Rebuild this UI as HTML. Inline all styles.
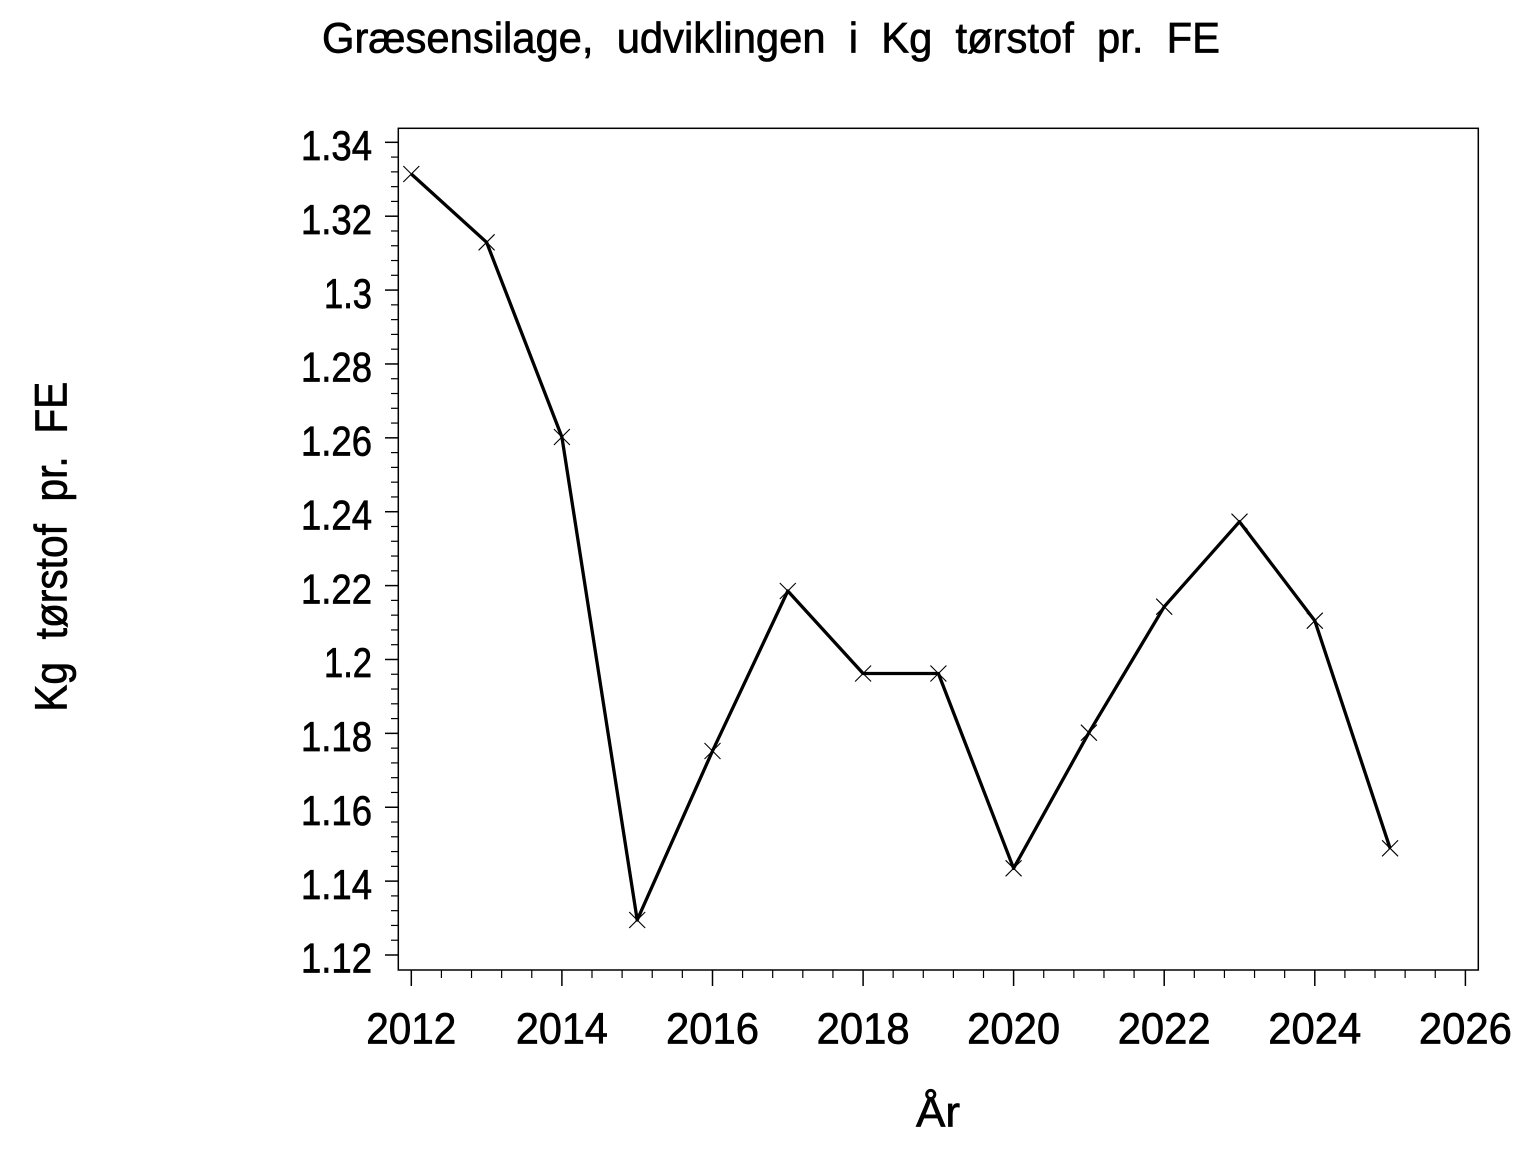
<!DOCTYPE html>
<html>
<head>
<meta charset="utf-8">
<style>
  html, body { margin:0; padding:0; background:#fff; }
  svg { display:block; }
  text { font-family: "Liberation Sans", Arial, sans-serif; fill:#000; white-space: pre; }
  .b { stroke:#000; stroke-width:0.7; }
</style>
</head>
<body>
<svg width="1536" height="1152" viewBox="0 0 1536 1152" xmlns="http://www.w3.org/2000/svg" xml:space="preserve">
  <rect x="0" y="0" width="1536" height="1152" fill="#fff"/>

  <!-- Title -->
  <text class="b" x="322" y="52.7" font-size="43" textLength="898" lengthAdjust="spacingAndGlyphs">Græsensilage,  udviklingen  i  Kg  tørstof  pr.  FE</text>

  <!-- Frame -->
  <rect x="398.3" y="128.3" width="1080" height="841.7" fill="none" stroke="#000" stroke-width="1.5"/>

  <!-- Y ticks -->
  <g stroke="#000" stroke-width="1.5">
    <line x1="385" y1="955" x2="398" y2="955"/>
    <line x1="385" y1="881.12" x2="398" y2="881.12"/>
    <line x1="385" y1="807.24" x2="398" y2="807.24"/>
    <line x1="385" y1="733.36" x2="398" y2="733.36"/>
    <line x1="385" y1="659.48" x2="398" y2="659.48"/>
    <line x1="385" y1="585.6" x2="398" y2="585.6"/>
    <line x1="385" y1="511.72" x2="398" y2="511.72"/>
    <line x1="385" y1="437.84" x2="398" y2="437.84"/>
    <line x1="385" y1="363.96" x2="398" y2="363.96"/>
    <line x1="385" y1="290.08" x2="398" y2="290.08"/>
    <line x1="385" y1="216.2" x2="398" y2="216.2"/>
    <line x1="385" y1="142.32" x2="398" y2="142.32"/>
  </g>
  <g stroke="#000" stroke-width="1.2" id="yminor"></g>

  <!-- Y tick labels -->
  <g font-size="42" text-anchor="end" class="b">
    <text x="372" y="972.7" textLength="71" lengthAdjust="spacingAndGlyphs">1.12</text>
    <text x="372" y="898.8" textLength="71" lengthAdjust="spacingAndGlyphs">1.14</text>
    <text x="372" y="824.9" textLength="71" lengthAdjust="spacingAndGlyphs">1.16</text>
    <text x="372" y="751.1" textLength="71" lengthAdjust="spacingAndGlyphs">1.18</text>
    <text x="372" y="677.2" textLength="48" lengthAdjust="spacingAndGlyphs">1.2</text>
    <text x="372" y="603.3" textLength="71" lengthAdjust="spacingAndGlyphs">1.22</text>
    <text x="372" y="529.4" textLength="71" lengthAdjust="spacingAndGlyphs">1.24</text>
    <text x="372" y="455.5" textLength="71" lengthAdjust="spacingAndGlyphs">1.26</text>
    <text x="372" y="381.7" textLength="71" lengthAdjust="spacingAndGlyphs">1.28</text>
    <text x="372" y="307.8" textLength="48" lengthAdjust="spacingAndGlyphs">1.3</text>
    <text x="372" y="233.9" textLength="71" lengthAdjust="spacingAndGlyphs">1.32</text>
    <text x="372" y="160" textLength="71" lengthAdjust="spacingAndGlyphs">1.34</text>
  </g>

  <!-- X ticks -->
  <g stroke="#000" stroke-width="1.5">
    <line x1="411.3" y1="970" x2="411.3" y2="986"/>
    <line x1="561.9" y1="970" x2="561.9" y2="986"/>
    <line x1="712.5" y1="970" x2="712.5" y2="986"/>
    <line x1="863.1" y1="970" x2="863.1" y2="986"/>
    <line x1="1013.6" y1="970" x2="1013.6" y2="986"/>
    <line x1="1164.2" y1="970" x2="1164.2" y2="986"/>
    <line x1="1314.8" y1="970" x2="1314.8" y2="986"/>
    <line x1="1465.4" y1="970" x2="1465.4" y2="986"/>
  </g>
  <g stroke="#000" stroke-width="1.2" id="xminor"></g>

  <!-- X tick labels -->
  <g font-size="44" text-anchor="middle" class="b">
    <text x="411.3" y="1043.3" textLength="90" lengthAdjust="spacingAndGlyphs">2012</text>
    <text x="561.9" y="1043.3" textLength="92" lengthAdjust="spacingAndGlyphs">2014</text>
    <text x="712.5" y="1043.3" textLength="93" lengthAdjust="spacingAndGlyphs">2016</text>
    <text x="863.1" y="1043.3" textLength="93" lengthAdjust="spacingAndGlyphs">2018</text>
    <text x="1013.6" y="1043.3" textLength="93" lengthAdjust="spacingAndGlyphs">2020</text>
    <text x="1164.2" y="1043.3" textLength="93" lengthAdjust="spacingAndGlyphs">2022</text>
    <text x="1314.8" y="1043.3" textLength="93" lengthAdjust="spacingAndGlyphs">2024</text>
    <text x="1465.4" y="1043.3" textLength="93" lengthAdjust="spacingAndGlyphs">2026</text>
  </g>

  <!-- Axis labels -->
  <text class="b" x="938" y="1126.7" font-size="43" text-anchor="middle" textLength="44" lengthAdjust="spacingAndGlyphs">År</text>
  <text class="b" transform="translate(66.7,711.7) rotate(-90)" font-size="45" textLength="330" lengthAdjust="spacingAndGlyphs">Kg  tørstof  pr.  FE</text>

  <!-- Data line -->
  <polyline fill="none" stroke="#000" stroke-width="3.3" stroke-linejoin="round"
    points="411.3,174 486.6,242.3 561.9,437 637.2,920 712.5,751 787.8,591 863.1,673.5 938.4,673.5 1013.6,868.3 1088.9,732.7 1164.2,606.7 1239.5,521.7 1314.8,620.7 1390.1,848.3"/>

  <!-- Markers -->
  <g stroke="#000" stroke-width="1.1" id="markers"></g>

  <script>
    (function(){
      var ns = "http://www.w3.org/2000/svg";
      function ln(g,x1,y1,x2,y2){
        var l=document.createElementNS(ns,"line");
        l.setAttribute("x1",x1);l.setAttribute("y1",y1);
        l.setAttribute("x2",x2);l.setAttribute("y2",y2);
        g.appendChild(l);
      }
      var ym=document.getElementById("yminor");
      for(var k=0;k<=55;k++){
        if(k%5===0) continue;
        var y=955-k*14.776;
        ln(ym,391,y,398,y);
      }
      var xm=document.getElementById("xminor");
      for(var k=0;k<=35;k++){
        if(k%5===0) continue;
        var x=411.3+k*30.116;
        ln(xm,x,970,x,978);
      }
      var mk=document.getElementById("markers");
      var pts=[[411.3,174],[486.6,242.3],[561.9,437],[637.2,920],[712.5,751],[787.8,591],[863.1,673.5],[938.4,673.5],[1013.6,868.3],[1088.9,732.7],[1164.2,606.7],[1239.5,521.7],[1314.8,620.7],[1390.1,848.3]];
      pts.forEach(function(p){
        var s=8;
        ln(mk,p[0]-s,p[1]-s,p[0]+s,p[1]+s);
        ln(mk,p[0]-s,p[1]+s,p[0]+s,p[1]-s);
      });
    })();
  </script>
</svg>
</body>
</html>
